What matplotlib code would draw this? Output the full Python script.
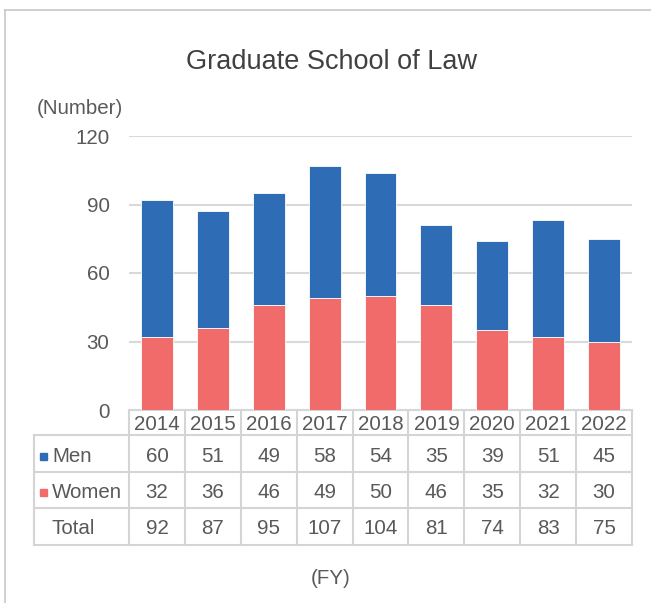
import matplotlib.pyplot as plt
from matplotlib.ticker import MultipleLocator

plt.rcParams['font.family'] = ['Liberation Sans', 'DejaVu Sans']

years = ['2014', '2015', '2016', '2017', '2018', '2019', '2020', '2021', '2022']
men = [60, 51, 49, 58, 54, 35, 39, 51, 45]
women = [32, 36, 46, 49, 50, 46, 35, 32, 30]
totals = [m + w for m, w in zip(men, women)]

men_color = '#2E6DB5'
women_color = '#F06B69'
text_color = '#595959'
line_color = '#D4D4D4'
fs = 14.8

W, H = 651, 603


def fx(x):
    return x / W


def fy(y):
    return 1 - y / H


fig = plt.figure(figsize=(W / 100, H / 100), dpi=100)

# overlay in pixel coordinates for the frame, title and the data table
ov = fig.add_axes([0, 0, 1, 1])
ov.set_xlim(0, W)
ov.set_ylim(H, 0)
ov.axis('off')

# chart frame (top and left edges visible)
ov.plot([5, W], [10, 10], color='#C8C8C8', lw=1.2)
ov.plot([5, 5], [10, H], color='#C8C8C8', lw=1.2)

ov.text(332, 62, 'Graduate School of Law', ha='center', va='center',
        fontsize=19.5, color='#404040')
ov.text(37, 108, '(Number)', ha='left', va='center', fontsize=fs, color=text_color)
ov.text(331, 579, '(FY)', ha='center', va='center', fontsize=fs, color=text_color)

# bar chart
left, right, top, bottom = 129, 632, 136, 410
ax = fig.add_axes([fx(left), fy(bottom), fx(right - left), (bottom - top) / H])
x = range(len(years))
ax.bar(x, women, width=0.57, color=women_color, edgecolor='white', linewidth=0.6, zorder=3)
ax.bar(x, men, width=0.57, bottom=women, color=men_color, edgecolor='white', linewidth=0.6, zorder=3)
ax.set_xlim(-0.5, len(years) - 0.5)
ax.set_ylim(0, 120)
ax.yaxis.set_major_locator(MultipleLocator(30))
ax.grid(axis='y', color='#D9D9D9', lw=1.5, zorder=0)
for s in ax.spines.values():
    s.set_visible(False)
ax.tick_params(axis='y', length=0, pad=14, labelsize=fs, labelcolor=text_color)
ax.set_xticks([])
ax.patch.set_alpha(0)

# data table
col_w = (right - left) / len(years)
row_y = [410, 435, 472, 508, 545]
table_left = 34
for i, y in enumerate(row_y):
    x0 = left if i == 0 else table_left
    ov.plot([x0, right], [y, y], color=line_color, lw=1.5, zorder=2)
ov.plot([table_left, table_left], [row_y[1], row_y[-1]], color=line_color, lw=1.5)
for j in range(len(years) + 1):
    xx = left + j * col_w
    ov.plot([xx, xx], [row_y[0], row_y[-1]], color=line_color, lw=1.5)

rows = [years, [str(v) for v in men], [str(v) for v in women], [str(v) for v in totals]]
for i, vals in enumerate(rows):
    yc = (row_y[i] + row_y[i + 1]) / 2 + 2.5
    for j, v in enumerate(vals):
        ov.text(left + (j + 0.5) * col_w, yc, v, ha='center', va='center',
                fontsize=fs, color=text_color)

labels = ['Men', 'Women', 'Total']
markers = [men_color, women_color, None]
for i, lab in enumerate(labels):
    yc = (row_y[i + 1] + row_y[i + 2]) / 2 + 2.5
    if markers[i]:
        ov.add_patch(plt.Rectangle((40, yc - 3.5), 7, 7, color=markers[i]))
    ov.text(52, yc, lab, ha='left', va='center', fontsize=fs, color=text_color)

fig.savefig('out.png', dpi=100)
